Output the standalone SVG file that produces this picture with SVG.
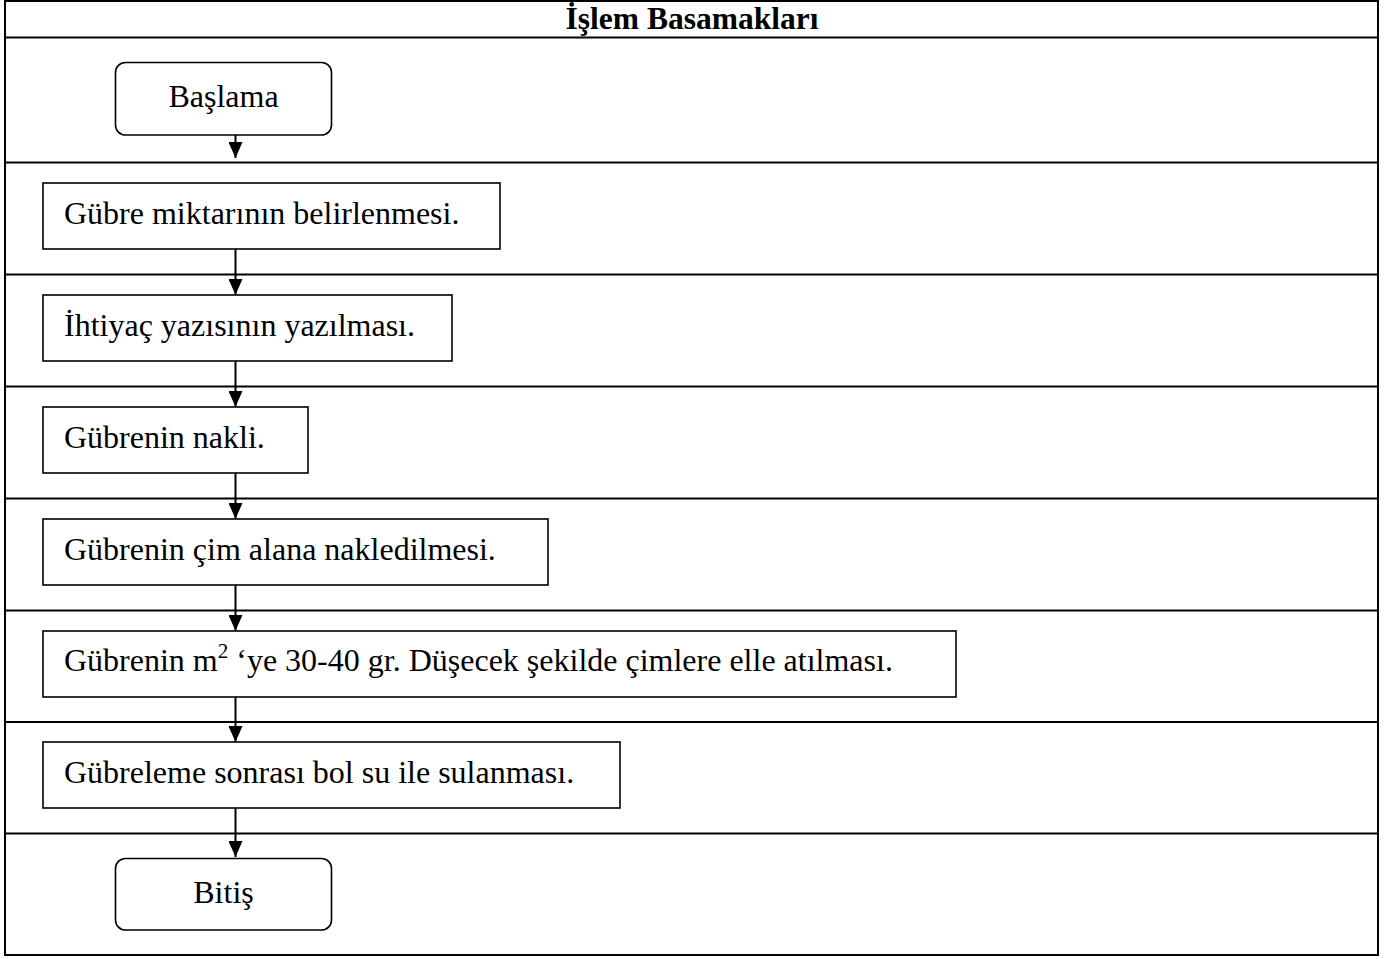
<svg xmlns="http://www.w3.org/2000/svg" width="1400" height="959" viewBox="0 0 1400 959">
<defs>
<marker id="arr" viewBox="0 0 16 14" markerWidth="16" markerHeight="14" refX="16" refY="7" orient="auto" markerUnits="userSpaceOnUse">
<path d="M0,0 L16,7 L0,14 Z" fill="#000"/>
</marker>
<style>
.t{font-family:"Liberation Serif","Times New Roman",serif;font-size:32px;fill:#000}
.h{font-family:"Liberation Serif","Times New Roman",serif;font-size:31.5px;font-weight:bold;fill:#000}
.grid{stroke:#000;stroke-width:2;fill:none}
.box{stroke:#000;stroke-width:1.6;fill:#fff}
.conn{stroke:#000;stroke-width:2;fill:none}
</style>
</defs>
<rect width="1400" height="959" fill="#fff"/>
<g id="table">
<rect class="grid" x="5" y="1" width="1373" height="954"/>
<line class="grid" x1="5" y1="37.5" x2="1378" y2="37.5"/>
<line class="grid" x1="5" y1="162.5" x2="1378" y2="162.5"/>
<line class="grid" x1="5" y1="274.5" x2="1378" y2="274.5"/>
<line class="grid" x1="5" y1="386.5" x2="1378" y2="386.5"/>
<line class="grid" x1="5" y1="498.5" x2="1378" y2="498.5"/>
<line class="grid" x1="5" y1="610.5" x2="1378" y2="610.5"/>
<line class="grid" x1="5" y1="722" x2="1378" y2="722"/>
<line class="grid" x1="5" y1="833.5" x2="1378" y2="833.5"/>
<text class="h" x="692" y="29" text-anchor="middle">İşlem Basamakları</text>
</g>
<g id="connectors">
<line class="conn" x1="235.5" y1="135" x2="235.5" y2="158" marker-end="url(#arr)"/>
<line class="conn" x1="235.5" y1="249" x2="235.5" y2="295" marker-end="url(#arr)"/>
<line class="conn" x1="235.5" y1="361" x2="235.5" y2="407" marker-end="url(#arr)"/>
<line class="conn" x1="235.5" y1="473" x2="235.5" y2="519" marker-end="url(#arr)"/>
<line class="conn" x1="235.5" y1="585" x2="235.5" y2="631" marker-end="url(#arr)"/>
<line class="conn" x1="235.5" y1="697" x2="235.5" y2="742" marker-end="url(#arr)"/>
<line class="conn" x1="235.5" y1="808" x2="235.5" y2="857" marker-end="url(#arr)"/>
</g>
<g id="start">
<rect class="box" x="115.5" y="62.5" width="216" height="72.5" rx="10"/>
<text class="t" x="223.5" y="107" text-anchor="middle">Başlama</text>
</g>
<g id="step1">
<rect class="box" x="43" y="183" width="457" height="66"/>
<text class="t" x="64" y="224">Gübre miktarının belirlenmesi.</text>
</g>
<g id="step2">
<rect class="box" x="43" y="295" width="409" height="66"/>
<text class="t" x="64" y="336">İhtiyaç yazısının yazılması.</text>
</g>
<g id="step3">
<rect class="box" x="43" y="407" width="265" height="66"/>
<text class="t" x="64" y="448">Gübrenin nakli.</text>
</g>
<g id="step4">
<rect class="box" x="43" y="519" width="505" height="66"/>
<text class="t" x="64" y="560">Gübrenin çim alana nakledilmesi.</text>
</g>
<g id="step5">
<rect class="box" x="43" y="631" width="913" height="66"/>
<text class="t" x="64" y="671">Gübrenin m<tspan font-size="21" dy="-13">2</tspan><tspan dy="13"> ‘ye 30-40 gr. Düşecek şekilde çimlere elle atılması.</tspan></text>
</g>
<g id="step6">
<rect class="box" x="43" y="742" width="577" height="66"/>
<text class="t" x="64" y="783">Gübreleme sonrası bol su ile sulanması.</text>
</g>
<g id="end">
<rect class="box" x="115.5" y="858.5" width="216" height="71.5" rx="10"/>
<text class="t" x="223.5" y="903" text-anchor="middle">Bitiş</text>
</g>
</svg>
